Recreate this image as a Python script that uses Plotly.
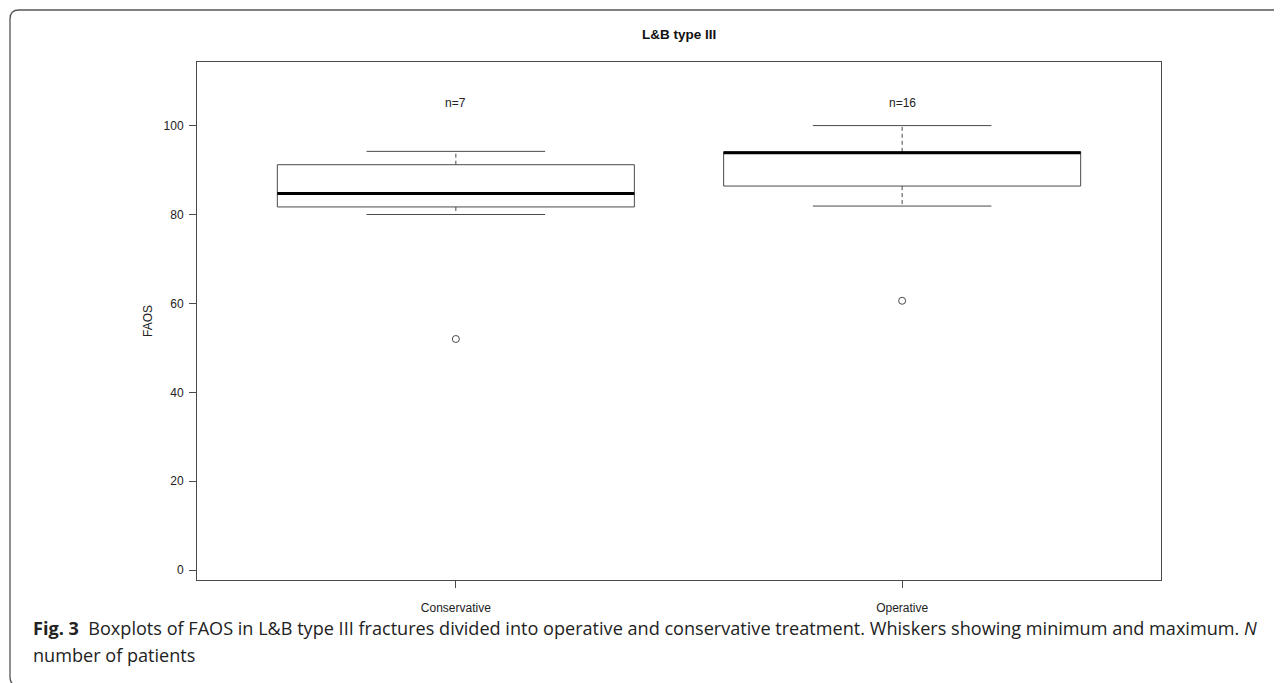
import plotly.graph_objects as go

# ---- data ----
categories = ["Conservative", "Operative"]
whisker_low = [80.0, 81.9]
q1 = [81.7, 86.4]
median = [84.7, 93.9]
q3 = [91.2, 94.1]
whisker_high = [94.2, 100.0]
outliers = [52.0, 60.6]
n_labels = ["n=7", "n=16"]
y_ticks = [0, 20, 40, 60, 80, 100]

positions = [1, 2]
BOX_W = 0.8
CAP_W = 0.4

# page body has an 8px margin; work in window pixels and shift
OFF = 8
W, H = 1282 - OFF, 683 - OFF
L, R, T, B = 197 - OFF, 1161 - OFF, 62 - OFF, 580 - OFF
PW, PH = R - L, B - T


def px_x(p):
    return (p - OFF - L) / PW


def px_y(p):
    return (B - (p - OFF)) / PH


LINE = "#4a4a4a"
FONT = "Liberation Sans, Arial, sans-serif"

fig = go.Figure()

# boxes (without whiskers; whiskers drawn dashed below)
for x, c, a, m, b in zip(positions, categories, q1, median, q3):
    fig.add_trace(go.Box(
        x=[x], q1=[a], median=[m], q3=[b], lowerfence=[a], upperfence=[b],
        width=BOX_W, whiskerwidth=0, fillcolor="white",
        line=dict(color=LINE, width=1), name=c, showlegend=False,
        hoverinfo="skip"))

# dashed whiskers
wx, wy = [], []
for x, a, b, lo, hi in zip(positions, q1, q3, whisker_low, whisker_high):
    wx += [x, x, None, x, x, None]
    wy += [b, hi, None, a, lo, None]
fig.add_trace(go.Scatter(x=wx, y=wy, mode="lines",
                         line=dict(color=LINE, width=1, dash="4px,3px"),
                         showlegend=False, hoverinfo="skip"))

# whisker caps
cx, cy = [], []
for x, lo, hi in zip(positions, whisker_low, whisker_high):
    cx += [x - CAP_W / 2, x + CAP_W / 2, None, x - CAP_W / 2, x + CAP_W / 2, None]
    cy += [hi, hi, None, lo, lo, None]
fig.add_trace(go.Scatter(x=cx, y=cy, mode="lines",
                         line=dict(color=LINE, width=1),
                         showlegend=False, hoverinfo="skip"))

# thick medians
mx, my = [], []
for x, m in zip(positions, median):
    mx += [x - BOX_W / 2, x + BOX_W / 2, None]
    my += [m, m, None]
fig.add_trace(go.Scatter(x=mx, y=my, mode="lines",
                         line=dict(color="black", width=3),
                         showlegend=False, hoverinfo="skip"))

# outliers
fig.add_trace(go.Scatter(x=positions, y=outliers, mode="markers",
                         marker=dict(symbol="circle-open", size=7,
                                     color=LINE, line=dict(width=1)),
                         showlegend=False, hoverinfo="skip"))

annotations = []
for x, t in zip(positions, n_labels):
    annotations.append(dict(x=x, y=105, xref="x", yref="y", text=t,
                            showarrow=False,
                            font=dict(family=FONT, size=12, color="#222")))

annotations.append(dict(x=px_x(679), y=px_y(35), xref="paper", yref="paper",
                        text="<b>L&B type III</b>", showarrow=False,
                        xanchor="center", yanchor="middle",
                        font=dict(family=FONT, size=13.5, color="#111")))
annotations.append(dict(x=px_x(148), y=px_y(321), xref="paper", yref="paper",
                        text="FAOS", textangle=-90, showarrow=False,
                        xanchor="center", yanchor="middle",
                        font=dict(family=FONT, size=12, color="#222")))

CAP_FONT = "Open Sans, Noto Sans, sans-serif"
annotations.append(dict(
    x=px_x(31), y=px_y(628), xref="paper", yref="paper",
    text="<b>Fig. 3</b>  Boxplots of FAOS in L&B type III fractures divided into operative and conservative treatment. Whiskers showing minimum and maximum. <i>N</i>",
    showarrow=False, xanchor="left", yanchor="middle",
    font=dict(family=CAP_FONT, size=18.1, color="#222")))
annotations.append(dict(
    x=px_x(31), y=px_y(655), xref="paper", yref="paper",
    text="number of patients",
    showarrow=False, xanchor="left", yanchor="middle",
    font=dict(family=CAP_FONT, size=18.1, color="#222")))

# outer rounded frame (bottom edge lies just below the window)
x0, y0, x1, y1, r = 10, 10, 1295, 686, 9
path = (f"M {px_x(x1)},{px_y(y0)} L {px_x(x0 + r)},{px_y(y0)} "
        f"Q {px_x(x0)},{px_y(y0)} {px_x(x0)},{px_y(y0 + r)} "
        f"L {px_x(x0)},{px_y(y1 - r)} "
        f"Q {px_x(x0)},{px_y(y1)} {px_x(x0 + r)},{px_y(y1)} "
        f"L {px_x(x1)},{px_y(y1)}")
shapes = [dict(type="path", path=path, xref="paper", yref="paper",
               line=dict(color="#555", width=1.3))]

fig.update_layout(
    width=W, height=H,
    margin=dict(l=L, r=W - R, t=T, b=H - B, pad=0),
    paper_bgcolor="white", plot_bgcolor="white",
    annotations=annotations, shapes=shapes,
    showlegend=False,
    xaxis=dict(range=[0.42, 2.58], tickvals=positions, ticktext=categories,
               showgrid=False, zeroline=False, showline=True, mirror=True,
               linecolor=LINE, linewidth=1, ticks="outside", ticklen=7,
               tickcolor=LINE, ticklabelstandoff=10,
               tickfont=dict(family=FONT, size=12, color="#222")),
    yaxis=dict(range=[-2.2, 114.3], tickvals=y_ticks,
               showgrid=False, zeroline=False, showline=True, mirror=True,
               linecolor=LINE, linewidth=1, ticks="outside", ticklen=7,
               tickcolor=LINE, ticklabelstandoff=3,
               tickfont=dict(family=FONT, size=12, color="#222")),
)

fig.write_html("out.html")
